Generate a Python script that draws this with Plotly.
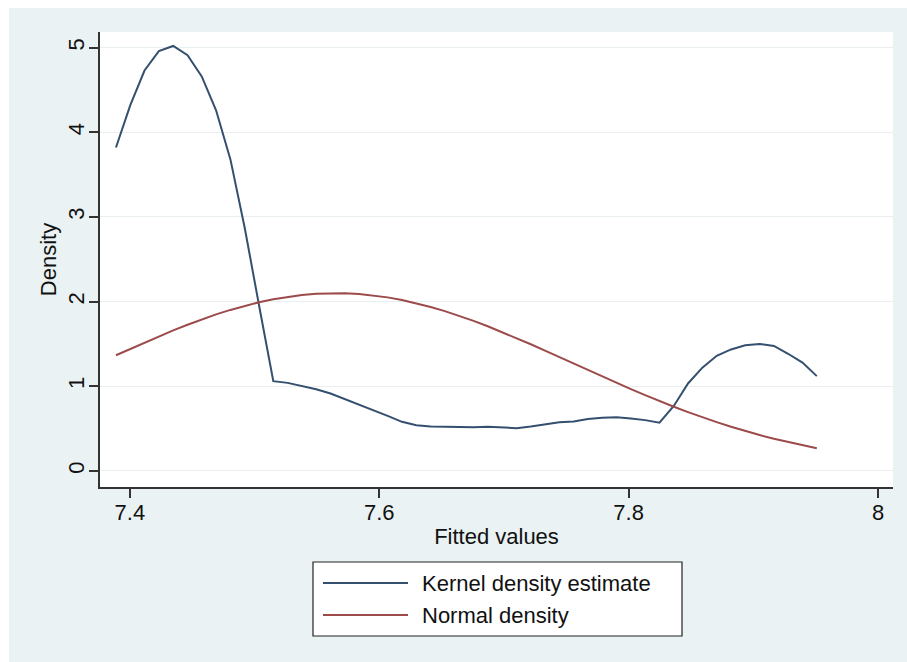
import plotly.graph_objects as go

# ---- data ----
fitted_x = [7.3888, 7.4003, 7.4117, 7.4232, 7.4347, 7.4462, 7.4576, 7.4691, 7.4806, 7.4921,
            7.5035, 7.5150, 7.5265, 7.5379, 7.5494, 7.5609, 7.5723, 7.5838, 7.5953, 7.6067,
            7.6182, 7.6297, 7.6412, 7.6526, 7.6641, 7.6756, 7.6870, 7.6985, 7.7100, 7.7215,
            7.7329, 7.7444, 7.7559, 7.7673, 7.7788, 7.7903, 7.8018, 7.8132, 7.8247, 7.8362,
            7.8476, 7.8591, 7.8706, 7.8821, 7.8935, 7.9050, 7.9165, 7.9279, 7.9394, 7.9509]

kernel_density = [3.82, 4.32, 4.73, 4.96, 5.02, 4.91, 4.66, 4.26, 3.68, 2.87,
                  1.96, 1.06, 1.04, 1.00, 0.965, 0.915, 0.85, 0.78, 0.72, 0.65,
                  0.58, 0.54, 0.525, 0.52, 0.515, 0.515, 0.523, 0.515, 0.505, 0.525,
                  0.55, 0.575, 0.585, 0.614, 0.628, 0.634, 0.62, 0.60, 0.57, 0.767,
                  1.033, 1.22, 1.36, 1.435, 1.484, 1.50, 1.476, 1.384, 1.28, 1.12]

normal_density = [1.366, 1.442, 1.516, 1.589, 1.660, 1.727, 1.790, 1.849, 1.902, 1.951,
                  1.992, 2.028, 2.057, 2.078, 2.093, 2.099, 2.098, 2.089, 2.073, 2.050,
                  2.019, 1.981, 1.937, 1.888, 1.833, 1.773, 1.709, 1.641, 1.569, 1.496,
                  1.421, 1.344, 1.268, 1.191, 1.115, 1.039, 0.966, 0.895, 0.825, 0.758,
                  0.695, 0.634, 0.576, 0.522, 0.471, 0.424, 0.379, 0.339, 0.301, 0.267]

x_ticks = [7.4, 7.6, 7.8, 8.0]
x_tick_labels = ["7.4", "7.6", "7.8", "8"]
y_ticks = [0, 1, 2, 3, 4, 5]
series_names = ["Kernel density estimate", "Normal density"]

# ---- style ----
W, H = 907, 662
ML, MR, MT, MB = 100, 14, 32, 175   # plot area in window pixels: x 100..893, y 32..487
PW, PH = W - ML - MR, H - MT - MB
BG = "#eaf2f3"
KDE_COLOR = "#34506e"
NORM_COLOR = "#9c4a4a"
FONT = "Liberation Sans, Arial, sans-serif"
FS = 22


def px_x(p):  # window pixel -> paper x
    return (p - ML) / PW


def px_y(p):  # window pixel -> paper y
    return (H - MB - p) / PH


fig = go.Figure()
fig.add_trace(go.Scatter(x=fitted_x, y=kernel_density, mode="lines", name=series_names[0],
                         line=dict(color=KDE_COLOR, width=2)))
fig.add_trace(go.Scatter(x=fitted_x, y=normal_density, mode="lines", name=series_names[1],
                         line=dict(color=NORM_COLOR, width=2)))

shapes = [
    # white page edge at the left and top of the picture
    dict(type="rect", xref="paper", yref="paper", x0=px_x(-5), x1=px_x(9), y0=px_y(H + 5), y1=px_y(-5),
         fillcolor="white", line=dict(width=0), layer="above"),
    dict(type="rect", xref="paper", yref="paper", x0=px_x(-5), x1=px_x(W + 5), y0=px_y(8), y1=px_y(-5),
         fillcolor="white", line=dict(width=0), layer="above"),
    # legend box
    dict(type="rect", xref="paper", yref="paper", x0=px_x(313), x1=px_x(682), y0=px_y(636), y1=px_y(562),
         fillcolor="white", line=dict(color="#222", width=1.2), layer="above"),
    dict(type="line", xref="paper", yref="paper", x0=px_x(323), x1=px_x(408), y0=px_y(583), y1=px_y(583),
         line=dict(color=KDE_COLOR, width=2), layer="above"),
    dict(type="line", xref="paper", yref="paper", x0=px_x(323), x1=px_x(408), y0=px_y(615), y1=px_y(615),
         line=dict(color=NORM_COLOR, width=2), layer="above"),
]
annotations = [
    dict(text=series_names[0], xref="paper", yref="paper", x=px_x(420), y=px_y(583),
         xanchor="left", yanchor="middle", showarrow=False, font=dict(size=FS, color="#111", family=FONT)),
    dict(text=series_names[1], xref="paper", yref="paper", x=px_x(420), y=px_y(615),
         xanchor="left", yanchor="middle", showarrow=False, font=dict(size=FS, color="#111", family=FONT)),
]

fig.update_layout(
    width=W, height=H,
    margin=dict(l=ML, r=MR, t=MT, b=MB, pad=0),
    paper_bgcolor=BG, plot_bgcolor="white",
    font=dict(family=FONT, size=FS, color="#111"),
    showlegend=False,
    hovermode=False,
    shapes=shapes, annotations=annotations,
    xaxis=dict(range=[7.376, 8.012], tickvals=x_ticks, ticktext=x_tick_labels,
               showgrid=False, zeroline=False, showline=True, linecolor="#333", linewidth=1.5,
               ticks="outside", ticklen=9, tickwidth=1.5, tickcolor="#333", ticklabelstandoff=-4,
               tickfont=dict(size=FS), title=dict(text="Fitted values", font=dict(size=FS), standoff=4)),
    yaxis=dict(range=[-0.19, 5.185], tickvals=y_ticks, showgrid=True, gridcolor="#e9eeee", gridwidth=1,
               zeroline=False, showline=True, linecolor="#333", linewidth=1.5,
               ticks="outside", ticklen=9, tickwidth=1.5, tickcolor="#333", tickangle=-90,
               ticklabelstandoff=-4,
               tickfont=dict(size=FS), title=dict(text="Density", font=dict(size=FS), standoff=2)),
)

fig.write_html(
    "out.html",
    config={"displayModeBar": False},
    post_script=("document.documentElement.style.overflow='hidden';"
                 "document.body.style.overflow='hidden';"
                 "document.body.style.margin='0';"),
)
